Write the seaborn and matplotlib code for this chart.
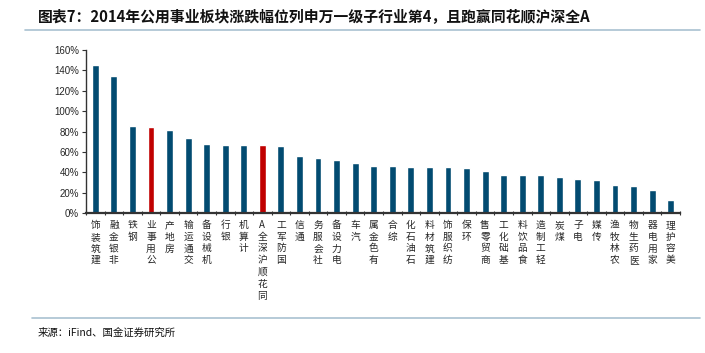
import matplotlib
matplotlib.use("Agg")
import matplotlib.pyplot as plt
import seaborn as sns
import pandas as pd
from matplotlib.ticker import FuncFormatter, FixedLocator
from matplotlib.lines import Line2D

categories = ["建筑装饰", "非银金融", "钢铁", "公用事业", "房地产", "交通运输", "机械设备", "银行",
              "计算机", "同花顺沪深全A", "国防军工", "通信", "社会服务", "电力设备", "汽车", "有色金属",
              "综合", "石油石化", "建筑材料", "纺织服饰", "环保", "商贸零售", "基础化工", "食品饮料",
              "轻工制造", "煤炭", "电子", "传媒", "农林牧渔", "医药生物", "家用电器", "美容护理"]
values = [145.0, 134.4, 85.2, 84.6, 81.3, 74.1, 67.3, 67.2, 67.1, 66.6, 65.6, 56.4, 54.4, 52.5,
          49.2, 46.6, 45.9, 45.6, 45.2, 44.9, 44.6, 41.6, 37.7, 37.4, 37.0, 35.1, 33.4, 32.1,
          27.9, 26.6, 22.3, 12.8]
highlight = ["公用事业", "同花顺沪深全A"]
yticks = [0, 20, 40, 60, 80, 100, 120, 140, 160]

title_text = "图表7：2014年公用事业板块涨跌幅位列申万一级子行业第4，且跑赢同花顺沪深全A"
source_text = "来源：iFind、国金证券研究所"

BLUE = "#024B71"
RED = "#C00000"

sns.set_theme(style="white")
plt.rcParams['font.family'] = ['Noto Sans CJK SC', 'DejaVu Sans']

df = pd.DataFrame({"cat": categories, "val": values})
palette = {c: (RED if c in highlight else BLUE) for c in categories}

fig = plt.figure(figsize=(7.05, 3.53), dpi=100)
ax = fig.add_axes([86/705, 140/353, (680-86)/705, (213-50)/353])

sns.barplot(data=df, x="cat", y="val", hue="cat", palette=palette, legend=False,
            width=0.37, ax=ax, saturation=1)

ax.set_xlim(-0.5, len(categories) - 0.5)
ax.set_ylim(0, 160)
ax.yaxis.set_major_locator(FixedLocator(yticks))
ax.yaxis.set_major_formatter(FuncFormatter(lambda v, p: f"{v:.0f}%"))
for lab in ax.get_yticklabels():
    lab.set_family(['Liberation Sans', 'DejaVu Sans'])
ax.tick_params(axis='y', labelsize=7, length=3, width=0.8, direction='out', color='#333333',
               left=True, pad=2)
ax.set_xlabel("")
ax.set_ylabel("")

# category labels: upright characters stacked, last character on top
ax.set_xticks(range(len(categories)))
ax.set_xticklabels(["\n".join(reversed(c)) for c in categories], fontsize=7,
                   va='top', linespacing=1.22)
ax.tick_params(axis='x', length=0, pad=5)
ax.set_xticks([i + 0.5 for i in range(-1, len(categories))], minor=True)
ax.tick_params(axis='x', which='minor', length=3, width=0.8, direction='inout',
               color='#333333', bottom=True)

for s in ["top", "right"]:
    ax.spines[s].set_visible(False)
for s in ["left", "bottom"]:
    ax.spines[s].set_color("#333333")
    ax.spines[s].set_linewidth(1.0)
ax.spines["bottom"].set_linewidth(1.6)
ax.grid(False)

fig.text(38/705, 1 - 16/353, title_text, fontsize=10.7, fontweight='bold',
         va='center', ha='left', color='#111111')
fig.add_artist(Line2D([25/705, 700/705], [1 - 30/353, 1 - 30/353], color='#A9C1D1',
                      linewidth=1.2, transform=fig.transFigure))
fig.add_artist(Line2D([32/705, 700/705], [1 - 318/353, 1 - 318/353], color='#A9C1D1',
                      linewidth=1.2, transform=fig.transFigure))
fig.text(38/705, 1 - 333/353, source_text, fontsize=7.5, va='center', ha='left',
         color='#111111')

fig.savefig("out.png", dpi=100)
